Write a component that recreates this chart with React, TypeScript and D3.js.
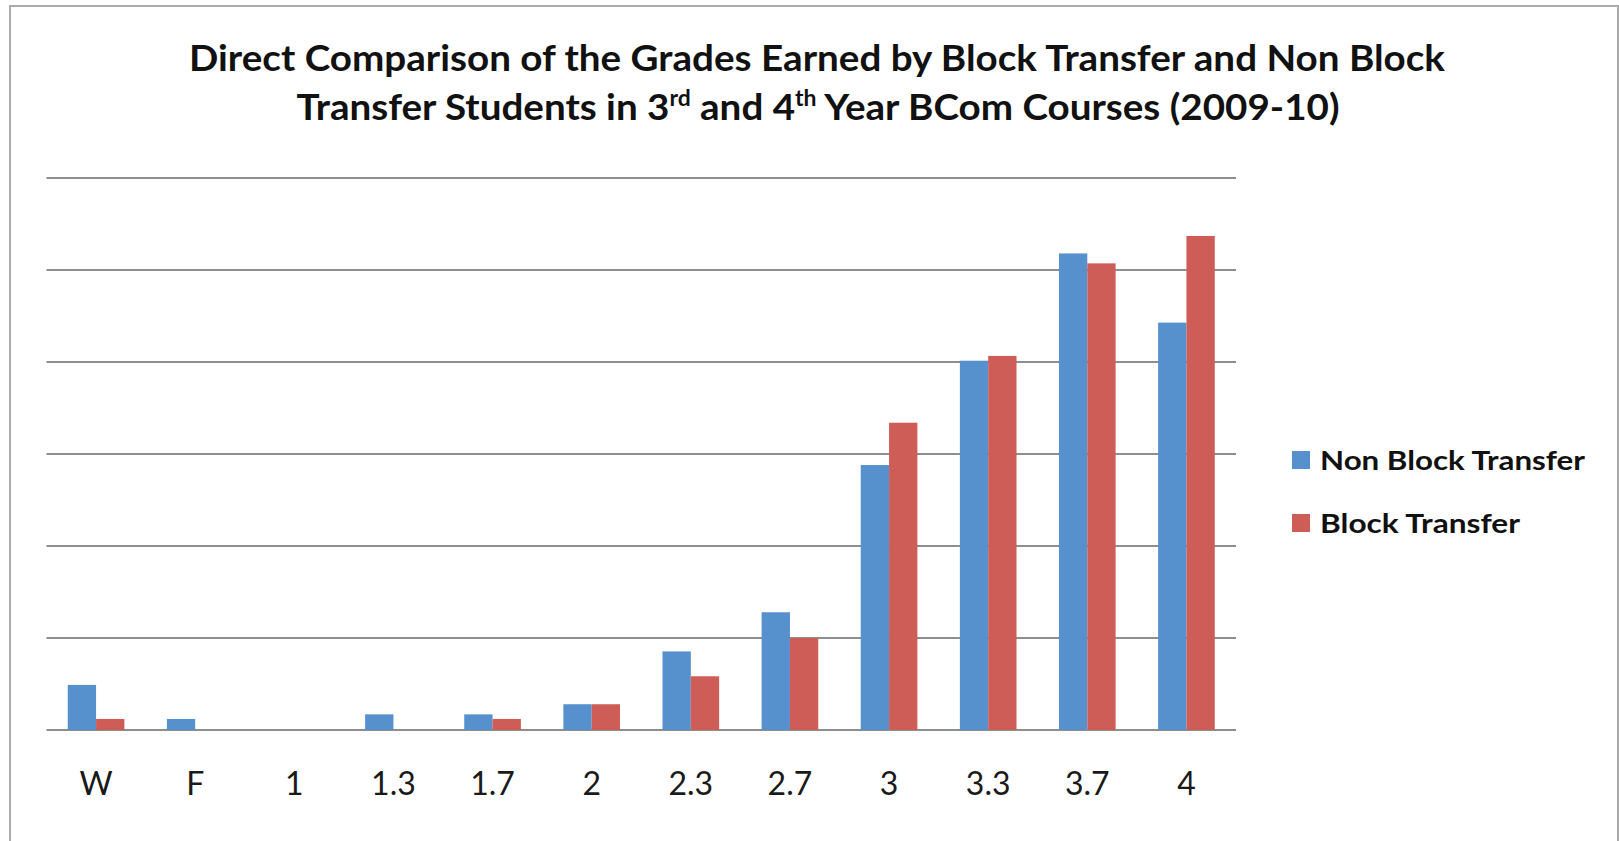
import React from 'react';
import * as d3 from 'd3';

// grade categories along the x axis
const grades = ['W', 'F', '1', '1.3', '1.7', '2', '2.3', '2.7', '3', '3.3', '3.7', '4'];
// share of grades (gridline step = 5)
const nonBlock = [2.45, 0.6, 0, 0.85, 0.85, 1.4, 4.27, 6.4, 14.4, 20.07, 25.9, 22.14];
const block = [0.6, 0, 0, 0, 0.6, 1.4, 2.92, 5.0, 16.7, 20.33, 25.36, 26.85];
const seriesNames = ['Non Block Transfer', 'Block Transfer'];
const yTicks = [0, 5, 10, 15, 20, 25, 30];

const colors = ['#5690CD', '#CD5D56'];
const font = 'Lato, "Open Sans", sans-serif';

const App = () => {
  const width = 1619;
  const height = 841;
  const marginLeft = 46.5;
  const plotRight = 1236;
  const plotTop = 178;
  const plotBottom = 730;

  const x = d3.scaleBand<string>()
    .domain(grades)
    .range([marginLeft, plotRight])
    .paddingInner(0)
    .paddingOuter(0);

  const bw = x.bandwidth();
  // Excel style gap width of 150%
  const xs = d3.scaleBand<string>()
    .domain(seriesNames)
    .range([bw * 0.75 / 3.5, bw - bw * 0.75 / 3.5]);

  const y = d3.scaleLinear().domain([0, 30]).range([plotBottom, plotTop]);

  const series = [nonBlock, block];

  return (
    <svg
      width={width}
      height={height}
      style={{ position: 'fixed', left: 0, top: 0, background: '#fff' }}
    >
      <rect x={0} y={0} width={width} height={height} fill="#fff" />
      {/* outer frame */}
      <rect x={10} y={6} width={width - 11} height={height} fill="none" stroke="#ababab" strokeWidth={2} />

      {/* title */}
      <text
        x={817}
        y={71}
        textAnchor="middle"
        fontFamily={font}
        fontWeight="bold"
        fontSize={37}
        fill="#111"
        textLength={1256}
        lengthAdjust="spacingAndGlyphs"
      >
        Direct Comparison of the Grades Earned by Block Transfer and Non Block
      </text>
      <text
        x={818}
        y={120}
        textAnchor="middle"
        fontFamily={font}
        fontWeight="bold"
        fontSize={37}
        fill="#111"
        textLength={1043}
        lengthAdjust="spacingAndGlyphs"
      >
        Transfer Students in 3<tspan fontSize={22} dy={-14}>rd</tspan>
        <tspan dy={14}> and 4</tspan>
        <tspan fontSize={22} dy={-14}>th</tspan>
        <tspan dy={14}> Year BCom Courses (2009-10)</tspan>
      </text>

      {/* gridlines */}
      {yTicks.map(t => (
        <line
          key={t}
          x1={marginLeft}
          x2={plotRight}
          y1={y(t)}
          y2={y(t)}
          stroke="#8e8e8e"
          strokeWidth={2}
        />
      ))}

      {/* bars */}
      {grades.map((g, i) => (
        <g key={g} transform={`translate(${x(g)},0)`}>
          {series.map((s, j) => (
            s[i] > 0 ? (
              <rect
                key={j}
                x={xs(seriesNames[j])}
                y={y(s[i])}
                width={xs.bandwidth()}
                height={y(0) - y(s[i])}
                fill={colors[j]}
              />
            ) : null
          ))}
        </g>
      ))}

      {/* x labels */}
      {grades.map(g => (
        <text
          key={g}
          x={(x(g) as number) + bw / 2}
          y={795}
          textAnchor="middle"
          fontFamily={font}
          fontSize={32}
          fill="#1a1a1a"
        >
          {g}
        </text>
      ))}

      {/* legend */}
      {seriesNames.map((name, j) => (
        <g key={name} transform={`translate(1292,${451 + j * 63})`}>
          <rect x={0} y={0} width={18} height={18} fill={colors[j]} />
          <text
            x={28}
            y={19}
            fontFamily={font}
            fontWeight="bold"
            fontSize={27}
            fill="#111"
            textLength={j === 0 ? 265 : 200}
            lengthAdjust="spacingAndGlyphs"
          >
            {name}
          </text>
        </g>
      ))}
    </svg>
  );
};

export default App;
